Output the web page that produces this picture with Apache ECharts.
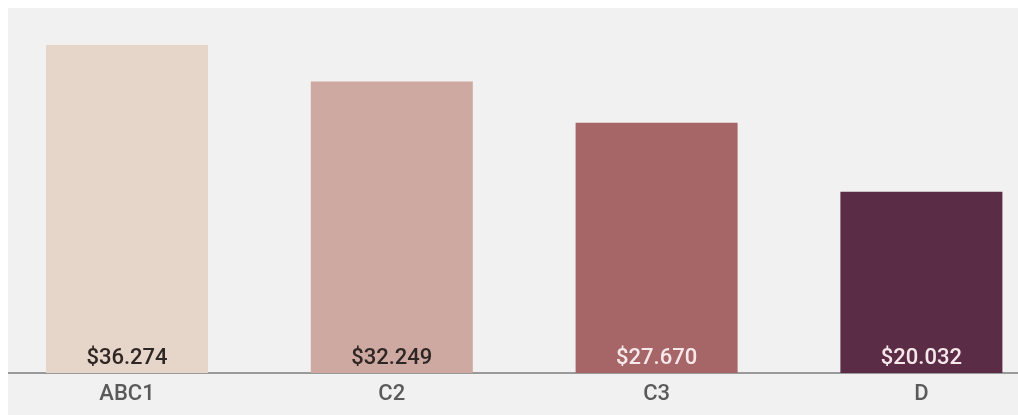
<!DOCTYPE html>
<html>
<head>
<meta charset="utf-8">
<script src="https://cdn.jsdelivr.net/npm/echarts@6/dist/echarts.min.js"></script>
<style>
  html, body { margin: 0; padding: 0; background: #fff; }
  #wrap {
    position: absolute;
    left: 8px;
    top: 8px;
    width: 1010px;
    height: 407px;
    overflow: hidden;
    background: #f1f1f1;
  }
  #chart {
    position: absolute;
    left: -14px;
    top: 0;
    width: 1060px;
    height: 407px;
  }
</style>
</head>
<body>
<div id="wrap"><div id="chart"></div></div>
<script>
// 数据
const categories = ['ABC1', 'C2', 'C3', 'D']
const values = [36274, 32249, 27670, 20032]
const barColors = ['#e6d5c9', '#cea9a2', '#a66667', '#5a2c45']
const labelColors = ['#2e2624', '#2e2624', '#f7e9eb', '#f7e9eb']

// 千位分隔用点号
function fmt(v) {
  return '$' + String(v).replace(/\B(?=(\d{3})+(?!\d))/g, '.')
}

const chart = echarts.init(document.getElementById('chart'))
chart.setOption({
  animation: false,
  grid: {
    left: 0.6,
    top: 3.3,
    width: 1059.2,
    height: 361.7,
    outerBoundsMode: 'none'
  },
  xAxis: {
    type: 'category',
    data: categories,
    axisTick: { show: false },
    axisLine: { lineStyle: { color: '#9a9a9a', width: 2 } },
    axisLabel: {
      color: '#5a5a5a',
      fontFamily: 'Roboto',
      fontWeight: 500,
      fontSize: 22,
      margin: 10
    }
  },
  yAxis: {
    type: 'value',
    min: 0,
    max: 40000,
    show: false,
    splitLine: { show: false }
  },
  series: [
    {
      type: 'bar',
      barWidth: 162,
      data: values.map((v, i) => ({
        value: v,
        itemStyle: { color: barColors[i] },
        label: { color: labelColors[i] }
      })),
      label: {
        show: true,
        position: 'insideBottom',
        distance: 4,
        fontFamily: 'Roboto',
        fontWeight: 500,
        fontSize: 22,
        formatter: p => fmt(p.value)
      }
    }
  ]
})
</script>
</body>
</html>
